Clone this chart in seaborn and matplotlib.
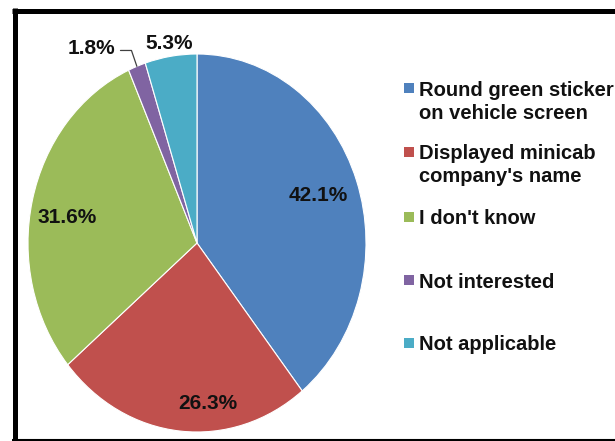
import numpy as np
import matplotlib
matplotlib.use("Agg")
import matplotlib.pyplot as plt
from matplotlib.lines import Line2D
from matplotlib.patches import Rectangle
import seaborn as sns

# Survey answers: how respondents recognise a licensed minicab (% of respondents)
categories = [
    "Round green sticker\non vehicle screen",
    "Displayed minicab\ncompany's name",
    "I don't know",
    "Not interested",
    "Not applicable",
]
values = [42.1, 26.3, 31.6, 1.8, 5.3]

sns.set_theme(style="white")
plt.rcParams["font.family"] = ["Liberation Sans", "DejaVu Sans"]
palette = sns.color_palette(["#4F81BD", "#C0504D", "#9BBB59", "#8064A2", "#4BACC6"])

W, H = 615, 441
fig = plt.figure(figsize=(W / 100, H / 100), dpi=100)


def fx(px):
    return px / W


def fy(py):
    return 1 - py / H


# Elliptical pie: centre (197, 243) px, radii 169 x 189 px
cx, cy, rx, ry = 197, 243, 169, 189
ax = fig.add_axes([fx(cx - rx), fy(cy + ry), 2 * rx / W, 2 * ry / H])
wedges, _ = ax.pie(
    values,
    colors=palette,
    startangle=90,
    counterclock=False,
    wedgeprops=dict(edgecolor="white", linewidth=0.8),
)
ax.set_aspect("auto")
ax.set_xlim(-1, 1)
ax.set_ylim(-1, 1)
ax.axis("off")

# Value labels: (radial distance, angular nudge in degrees)
label_layout = [(0.76, 0), (0.85, 10), (0.78, 3), None, (1.07, 0)]
label_font = dict(fontsize=15, fontweight="bold", color="#111111")

for w, v, lay in zip(wedges, values, label_layout):
    mid = np.deg2rad((w.theta1 + w.theta2) / 2)
    if lay is None:
        # small slice: label outside with an elbow leader line
        p0 = (np.cos(mid) * 1.0, np.sin(mid) * 1.0)
        p1 = (np.cos(mid) * 1.09, np.sin(mid) * 1.09)
        p2 = (p1[0] - 0.065, p1[1])
        ax.plot([p0[0], p1[0], p2[0]], [p0[1], p1[1], p2[1]],
                color="#404040", lw=0.9, clip_on=False)
        ax.text(p2[0] - 0.03, p2[1] + 0.01, f"{v:.1f}%", ha="right", va="center",
                clip_on=False, **label_font)
        continue
    r, nudge = lay
    a = mid + np.deg2rad(nudge)
    ax.text(r * np.cos(a), r * np.sin(a), f"{v:.1f}%", ha="center", va="center",
            clip_on=False, **label_font)

# Legend: square swatches with labels aligned to the first text line
legend_rows = [88, 151.5, 217, 280, 343]
for cat, col, yc in zip(categories, palette, legend_rows):
    fig.add_artist(Rectangle((fx(404), fy(yc + 5)), 10 / W, 10 / H,
                             transform=fig.transFigure, facecolor=col,
                             edgecolor="none"))
    fig.text(fx(419), fy(yc - 7.5), cat, ha="left", va="top",
             fontsize=14.5, fontweight="bold", color="#111111", linespacing=1.3)

# Chart frame (heavy top and left edges, thin bottom edge)
fig.add_artist(Line2D([fx(12), fx(615)], [fy(10.5), fy(10.5)], color="black",
                      lw=3.6, solid_capstyle="butt", transform=fig.transFigure))
fig.add_artist(Line2D([fx(14.5), fx(14.5)], [fy(8), fy(441)], color="black",
                      lw=3.6, solid_capstyle="butt", transform=fig.transFigure))
fig.add_artist(Line2D([fx(12), fx(615)], [fy(440), fy(440)], color="black",
                      lw=1.5, solid_capstyle="butt", transform=fig.transFigure))

fig.savefig("out.png", dpi=100)
